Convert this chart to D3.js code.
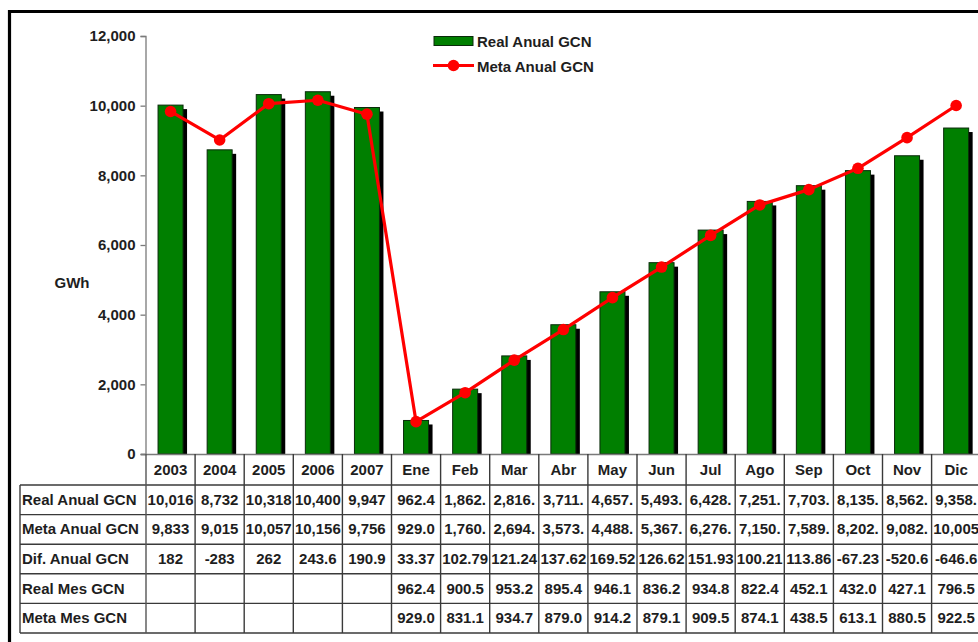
<!DOCTYPE html>
<html>
<head>
<meta charset="utf-8">
<script src="https://cdn.jsdelivr.net/npm/d3@7"></script>
<style>
  html, body { margin: 0; padding: 0; background: #fff; }
  svg { display: block; font-family: "Liberation Sans", Arial, sans-serif; }
  text { font-weight: bold; fill: #1e1e1e; }
</style>
</head>
<body>
<svg id="chart" width="978" height="642"></svg>
<script>
// Categories: five annual totals followed by the months of the current year
const categories = ["2003", "2004", "2005", "2006", "2007", "Ene", "Feb", "Mar", "Abr", "May",
  "Jun", "Jul", "Ago", "Sep", "Oct", "Nov", "Dic"];

// Accumulated generation (GWh)
const realAnual = [10016, 8732, 10318, 10400, 9947, 962.4, 1862, 2816, 3711, 4657,
  5493, 6428, 7251, 7703, 8135, 8562, 9358];
const metaAnual = [9833, 9015, 10057, 10156, 9756, 929.0, 1760, 2694, 3573, 4488,
  5367, 6276, 7150, 7589, 8202, 9082, 10005];

// Data table rows as printed
const tableRealAnual = ["10,016", "8,732", "10,318", "10,400", "9,947", "962.4", "1,862.", "2,816.",
  "3,711.", "4,657.", "5,493.", "6,428.", "7,251.", "7,703.", "8,135.", "8,562.", "9,358."];
const tableMetaAnual = ["9,833", "9,015", "10,057", "10,156", "9,756", "929.0", "1,760.", "2,694.",
  "3,573.", "4,488.", "5,367.", "6,276.", "7,150.", "7,589.", "8,202.", "9,082.", "10,005"];
const tableDifAnual = ["182", "-283", "262", "243.6", "190.9", "33.37", "102.79", "121.24",
  "137.62", "169.52", "126.62", "151.93", "100.21", "113.86", "-67.23", "-520.6", "-646.6"];
const tableRealMes = ["", "", "", "", "", "962.4", "900.5", "953.2", "895.4", "946.1",
  "836.2", "934.8", "822.4", "452.1", "432.0", "427.1", "796.5"];
const tableMetaMes = ["", "", "", "", "", "929.0", "831.1", "934.7", "879.0", "914.2",
  "879.1", "909.5", "874.1", "438.5", "613.1", "880.5", "922.5"];

const rowLabels = ["Real Anual GCN", "Meta Anual GCN", "Dif. Anual GCN", "Real Mes GCN", "Meta Mes GCN"];
const yTicks = [0, 2000, 4000, 6000, 8000, 10000, 12000];

const svg = d3.select("#chart");
const fs = 15;

const plotLeft = 146, colW = 49.1;
const x = d3.scaleBand().domain(categories)
  .range([plotLeft, plotLeft + colW * categories.length]).padding(0);
const y = d3.scaleLinear().domain([0, 12000]).range([454, 36]);

// Outer frame
svg.append("path")
  .attr("d", "M9.5,660 L9.5,11.5 L1000,11.5")
  .attr("fill", "none").attr("stroke", "#000").attr("stroke-width", 3.2);

// Y axis
const yAxis = d3.axisLeft(y).tickValues(yTicks).tickFormat(d3.format(",")).tickSize(5).tickPadding(5);
const gy = svg.append("g").attr("transform", `translate(${plotLeft - 0.5},0)`).call(yAxis);
gy.select(".domain").attr("stroke", "#7a7a7a").attr("stroke-width", 1.3);
gy.selectAll(".tick line").attr("stroke", "#7a7a7a").attr("stroke-width", 1.3);
gy.selectAll(".tick text").attr("font-size", fs).attr("font-weight", "bold").attr("fill", "#1e1e1e")
  .attr("font-family", "'Liberation Sans', Arial, sans-serif");

svg.append("text").attr("x", 72).attr("y", 288).attr("text-anchor", "middle")
  .attr("font-size", fs).text("GWh");

// Bars with a drop shadow
const barW = 25;
const barOff = (x.bandwidth() - barW) / 2;
const bars = svg.append("g");
bars.selectAll("rect.shadow").data(realAnual).join("rect")
  .attr("class", "shadow")
  .attr("x", (d, i) => x(categories[i]) + barOff + 4)
  .attr("y", d => y(d) + 4)
  .attr("width", barW)
  .attr("height", d => y(0) - y(d) - 4)
  .attr("fill", "#000");
bars.selectAll("rect.bar").data(realAnual).join("rect")
  .attr("class", "bar")
  .attr("x", (d, i) => x(categories[i]) + barOff)
  .attr("y", d => y(d))
  .attr("width", barW)
  .attr("height", d => y(0) - y(d))
  .attr("fill", "#007f00")
  .attr("stroke", "#0a2a0a").attr("stroke-width", 1);

// X axis baseline
svg.append("line").attr("x1", plotLeft - 5).attr("x2", 1000)
  .attr("y1", y(0) + 0.5).attr("y2", y(0) + 0.5)
  .attr("stroke", "#7a7a7a").attr("stroke-width", 1.3);

// Target line
const line = d3.line().x((d, i) => x(categories[i]) + x.bandwidth() / 2).y(d => y(d));
svg.append("path").datum(metaAnual).attr("d", line)
  .attr("fill", "none").attr("stroke", "#ff0000").attr("stroke-width", 3.2)
  .attr("stroke-linejoin", "round");
svg.append("g").selectAll("circle").data(metaAnual).join("circle")
  .attr("cx", (d, i) => x(categories[i]) + x.bandwidth() / 2)
  .attr("cy", d => y(d))
  .attr("r", 5.8).attr("fill", "#ff0000");

// Legend
const lg = svg.append("g");
lg.append("rect").attr("x", 434).attr("y", 36.5).attr("width", 39).attr("height", 9)
  .attr("fill", "#007f00").attr("stroke", "#0a2a0a").attr("stroke-width", 1);
lg.append("text").attr("x", 477).attr("y", 46.5).attr("font-size", fs).text("Real Anual GCN");
lg.append("line").attr("x1", 433).attr("x2", 474).attr("y1", 65.5).attr("y2", 65.5)
  .attr("stroke", "#ff0000").attr("stroke-width", 3.2);
lg.append("circle").attr("cx", 453.5).attr("cy", 65.5).attr("r", 5.8).attr("fill", "#ff0000");
lg.append("text").attr("x", 477).attr("y", 71.5).attr("font-size", fs).text("Meta Anual GCN");

// Data table
const tbl = svg.append("g");
const headTop = y(0), rowTop = 485, rowH = 29.6;
const tableRight = x.range()[1];
const rows = [tableRealAnual, tableMetaAnual, tableDifAnual, tableRealMes, tableMetaMes];
const gridColor = "#3a3a3a";

// horizontal rules
for (let r = 0; r <= rows.length; r++) {
  tbl.append("line").attr("x1", 20).attr("x2", tableRight)
    .attr("y1", rowTop + r * rowH).attr("y2", rowTop + r * rowH)
    .attr("stroke", gridColor).attr("stroke-width", 1.4);
}
// left edge of the label column
tbl.append("line").attr("x1", 20).attr("x2", 20)
  .attr("y1", rowTop).attr("y2", rowTop + rows.length * rowH)
  .attr("stroke", gridColor).attr("stroke-width", 1.4);
// column separators
categories.forEach((c, i) => {
  tbl.append("line").attr("x1", x(c)).attr("x2", x(c))
    .attr("y1", headTop).attr("y2", rowTop + rows.length * rowH)
    .attr("stroke", i === 0 ? "#555" : gridColor).attr("stroke-width", 1.4);
});
tbl.append("line").attr("x1", tableRight).attr("x2", tableRight)
  .attr("y1", headTop).attr("y2", rowTop + rows.length * rowH)
  .attr("stroke", gridColor).attr("stroke-width", 1.4);

// header labels
tbl.selectAll("text.head").data(categories).join("text")
  .attr("class", "head")
  .attr("x", d => x(d) + x.bandwidth() / 2)
  .attr("y", (headTop + rowTop) / 2 + 5)
  .attr("text-anchor", "middle").attr("font-size", fs)
  .text(d => d);

// row labels and values
rows.forEach((vals, r) => {
  const cy = rowTop + r * rowH + rowH / 2 + 5;
  tbl.append("text").attr("x", 22).attr("y", cy).attr("font-size", fs).text(rowLabels[r]);
  tbl.selectAll(null).data(vals).join("text")
    .attr("x", (d, i) => x(categories[i]) + x.bandwidth() / 2)
    .attr("y", cy)
    .attr("text-anchor", "middle").attr("font-size", fs)
    .text(d => d);
});
</script>
</body>
</html>
